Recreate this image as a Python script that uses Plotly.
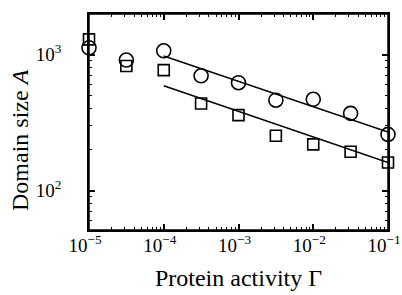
import numpy as np
import plotly.graph_objects as go

gamma = [1e-5, 3.16e-5, 1e-4, 3.16e-4, 1e-3, 3.16e-3, 1e-2, 3.16e-2, 1e-1]
circle_A = [1122, 911, 1066, 698, 621, 462, 469, 370, 259]
square_A = [1293, 823, 769, 437, 359, 253, 219, 193, 161]
fit_gamma = [1e-4, 1e-1]
fit_circle = [975, 270]
fit_square = [590, 161]

x_tickvals = [1e-5, 1e-4, 1e-3, 1e-2, 1e-1]
x_ticktext = ["10<sup>−5</sup>", "10<sup>−4</sup>", "10<sup>−3</sup>", "10<sup>−2</sup>", "10<sup>−1</sup>"]
y_tickvals = [1e2, 1e3]
y_ticktext = ["10<sup>2</sup>", "10<sup>3</sup>"]

FONT = "Liberation Serif, Times New Roman, serif"

fig = go.Figure()
fig.add_trace(go.Scatter(x=fit_gamma, y=fit_circle, mode="lines",
                         line=dict(color="black", width=1.5), showlegend=False))
fig.add_trace(go.Scatter(x=fit_gamma, y=fit_square, mode="lines",
                         line=dict(color="black", width=1.5), showlegend=False))
fig.add_trace(go.Scatter(x=gamma, y=circle_A, mode="markers", cliponaxis=False,
                         marker=dict(symbol="circle-open", size=14, color="black",
                                     line=dict(width=1.6, color="black")),
                         showlegend=False))
fig.add_trace(go.Scatter(x=gamma, y=square_A, mode="markers", cliponaxis=False,
                         marker=dict(symbol="square-open", size=11, color="black",
                                     line=dict(width=1.6, color="black")),
                         showlegend=False))

minor_x = []
for d in range(-5, -1):
    for k in range(2, 10):
        minor_x.append(k * 10.0 ** d)
minor_y = []
for d in range(1, 4):
    for k in range(2, 10):
        minor_y.append(k * 10.0 ** d)

axis_common = dict(type="log", showgrid=False, zeroline=False, automargin=False,
                   showline=True, linecolor="black", linewidth=1.5,
                   mirror="ticks", ticks="inside", ticklen=6, tickwidth=1.5,
                   tickcolor="black", ticklabeloverflow="allow",
                   tickfont=dict(family=FONT, size=19, color="black"))

fig.update_xaxes(**axis_common, range=[-5.00001, -0.99999], tickvals=x_tickvals, ticktext=x_ticktext,
                 minor=dict(tickvals=minor_x, ticks="inside", ticklen=3, tickwidth=1.2,
                            tickcolor="black", showgrid=False),
                 ticklabelstandoff=-3, ticklabelshift=-4,
                 title=dict(text="Protein activity Γ", font=dict(family=FONT, size=24, color="black"),
                            standoff=15))
fig.update_yaxes(**axis_common, range=[1.711, 3.298], tickvals=y_tickvals, ticktext=y_ticktext,
                 minor=dict(tickvals=minor_y, ticks="inside", ticklen=3, tickwidth=1.2,
                            tickcolor="black", showgrid=False),
                 ticklabelstandoff=22)

fig.add_annotation(text="Domain size <i>A</i>", xref="paper", yref="paper", x=0, y=0.5,
                   xshift=-69, yshift=-18, textangle=-90, showarrow=False,
                   xanchor="center", yanchor="middle",
                   font=dict(family=FONT, size=24, color="black"))

# plot frame
fig.add_shape(type="rect", xref="paper", yref="paper", x0=0, x1=1, y0=0, y1=1,
              line=dict(color="black", width=1.5), fillcolor="rgba(0,0,0,0)", layer="above")

fig.update_layout(width=402, height=295, margin=dict(l=89, r=14, t=14, b=65),
                  plot_bgcolor="white", paper_bgcolor="white")
fig.write_html("out.html", config={"displayModeBar": False},
               post_script="document.body.style.margin='0';document.body.style.overflow='hidden';")
